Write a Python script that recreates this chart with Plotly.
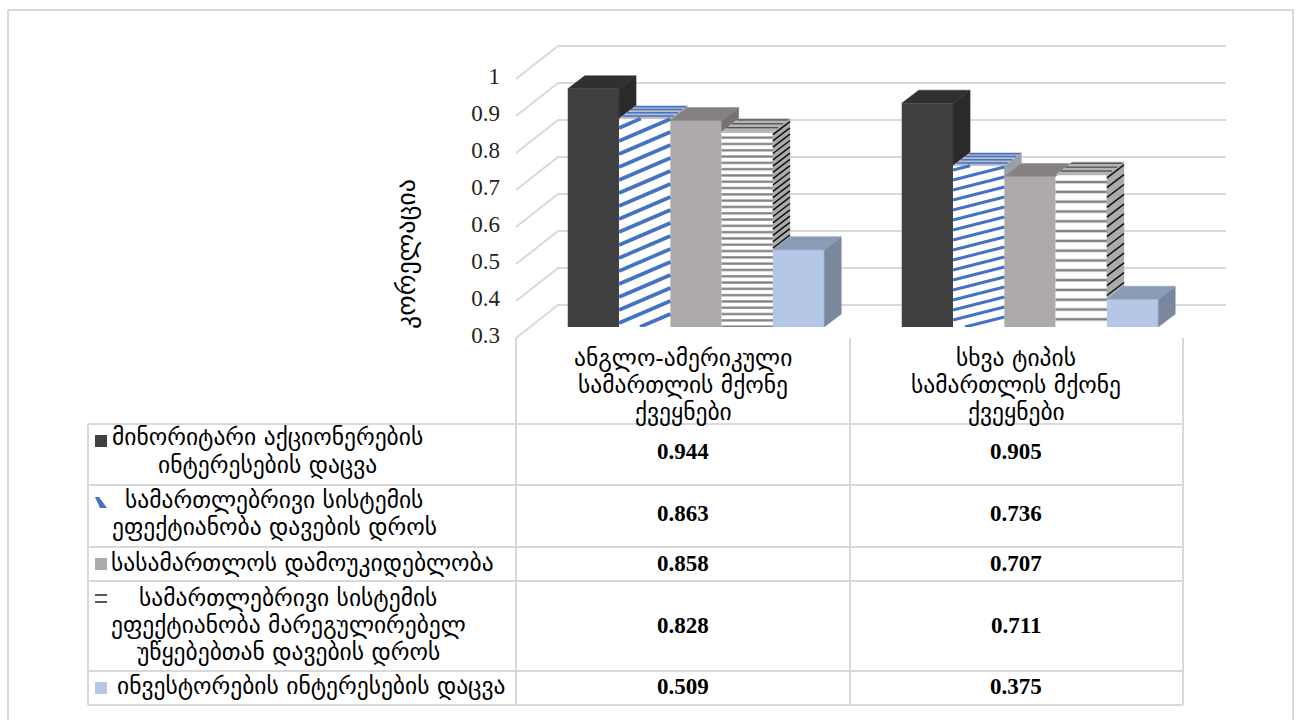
import plotly.graph_objects as go

# ---------- data ----------
group_labels = ["ანგლო-ამერიკული<br>სამართლის მქონე<br>ქვეყნები",
                "სხვა ტიპის<br>სამართლის მქონე<br>ქვეყნები"]
series_names = ["მინორიტარი აქციონერების<br>ინტერესების დაცვა",
                "სამართლებრივი სისტემის<br>ეფექტიანობა დავების დროს",
                "სასამართლოს დამოუკიდებლობა",
                "სამართლებრივი სისტემის<br>ეფექტიანობა მარეგულირებელ<br>უწყებებთან დავების დროს",
                "ინვესტორების ინტერესების დაცვა"]
anglo_values = [0.944, 0.863, 0.858, 0.828, 0.509]
other_values = [0.905, 0.736, 0.707, 0.711, 0.375]
y_ticks = [0.3, 0.4, 0.5, 0.6, 0.7, 0.8, 0.9, 1.0]
y_tick_text = ["0.3", "0.4", "0.5", "0.6", "0.7", "0.8", "0.9", "1"]
y_title = "კორელაცია"

# ---------- style ----------
W, H = 1301, 720
GRID = "#d9d9d9"
GEO = "DejaVu Sans"
SERIF = "Liberation Serif"
front = ["#404040", "#ffffff", "#aeaaaa", "#ffffff", "#b4c7e7"]
top_c = ["#303030", "#b8bcc4", "#858181", "#b4b4b4", "#8a9bb6"]
side_c = ["#2a2a2a", "#9aa0ac", "#757271", "#ababab", "#7a889e"]
BLUE = "#4472c4"
hatch_size = [6.3, 9.8]
hatch_solid = [0.36, 0.26]
side_step_px = [6.3, 9.8]
stripe_rise_px = [22, 13]
stripe_step_px = [13, 10]
stripe_width = [3.6, 3]

PL, PR, PT = 516, 1230, 40
PX_X = 334.0
PX_Y = 370.0
BASE_PX = 327
x0_data = (PL - 696.0) / PX_X
x1_data = (PR - 696.0) / PX_X
BAR_W = 51.3 / PX_X
DX = 17 / PX_X
DY = 13 / PX_Y


def px(v):
    return v / W


def py(v):
    return 1 - v / H


def val_px(v):
    return BASE_PX - (v - 0.3) * PX_Y


def poly(xs, ys, color):
    return go.Scatter(x=xs, y=ys, mode="lines", fill="toself", fillcolor=color,
                      line=dict(color=color, width=0.5), hoverinfo="skip", showlegend=False)


def seg(xs, ys, color, width):
    return go.Scatter(x=xs, y=ys, mode="lines", line=dict(color=color, width=width),
                      hoverinfo="skip", showlegend=False, connectgaps=False)


traces = []
columns = [anglo_values, other_values]
for s in range(5):
    vals = [anglo_values[s], other_values[s]]
    marker = dict(color=front[s], line=dict(width=0))
    if s == 3:
        marker["pattern"] = dict(shape="-", fgcolor="#000000", bgcolor="#ffffff",
                                 size=hatch_size, solidity=hatch_solid)
    traces.append(go.Bar(x=[0, 1], y=vals, name=series_names[s].replace("<br>", " "),
                         marker=marker, width=BAR_W, offset=(s - 2.5) * BAR_W, showlegend=False,
                         hovertemplate="%{y}<extra></extra>"))

for g, col in enumerate(columns):
    for s in range(5):
        v = col[s]
        xl = g + (s - 2.5) * BAR_W
        xr = xl + BAR_W
        low = col[s + 1] if s < 4 else 0.3
        if low < v:
            traces.append(poly([xr, xr + DX, xr + DX, xr, xr], [v, v + DY, low + DY, low, v], side_c[s]))
            if s == 3:
                xs, ys = [], []
                k = v - 0.008
                while k > low:
                    xs += [xr, xr + DX, None]
                    ys += [k, k + DY, None]
                    k -= side_step_px[g] / PX_Y
                traces.append(seg(xs, ys, "#111111", 1.5))
        traces.append(poly([xl, xl + DX, xr + DX, xr, xl], [v, v + DY, v + DY, v, v], top_c[s]))
        if s == 1:
            xs, ys = [], []
            for f in (0.2, 0.45, 0.7, 0.92):
                xs += [xl + DX * f, xr + DX * f, None]
                ys += [v + DY * f, v + DY * f, None]
            traces.append(seg(xs, ys, BLUE, 1.5))
            rise = stripe_rise_px[g] / PX_Y
            step = stripe_step_px[g] / PX_Y
            xs, ys = [], []
            k = 0.3 - rise
            while k < v:
                y_a, y_b = k, k + rise
                xa, xb = xl, xr
                if y_a < 0.3:
                    xa = xl + (0.3 - y_a) / rise * BAR_W
                    y_a = 0.3
                if y_b > v:
                    xb = xl + (v - k) / rise * BAR_W
                    y_b = v
                xs += [xa, xb, None]
                ys += [y_a, y_b, None]
                k += step
            traces.append(seg(xs, ys, BLUE, stripe_width[g]))
        if s == 3:
            xs, ys = [], []
            for f in (0.3, 0.6, 0.9):
                xs += [xl + DX * f, xr + DX * f, None]
                ys += [v + DY * f, v + DY * f, None]
            traces.append(seg(xs, ys, "#333333", 1))

traces.append(go.Scatter(x=[0], y=[0.5], yaxis="y2", mode="markers", marker=dict(opacity=0),
                         hoverinfo="skip", showlegend=False))

fig = go.Figure(traces)

shapes = []


def hline(x0, x1, y, c=GRID, w=2):
    shapes.append(dict(type="line", xref="paper", yref="paper", x0=px(x0), x1=px(x1), y0=py(y), y1=py(y),
                       line=dict(color=c, width=w), layer="below"))


def vline(x, y0, y1, c=GRID, w=2):
    shapes.append(dict(type="line", xref="paper", yref="paper", x0=px(x), x1=px(x), y0=py(y0), y1=py(y1),
                       line=dict(color=c, width=w), layer="below"))


for t in y_ticks:
    back = val_px(t) - 22
    fr = val_px(t) + 11
    shapes.append(dict(type="path", xref="paper", yref="paper", layer="below",
                       path=f"M {px(516)} {py(fr)} L {px(558)} {py(back)} L {px(1226)} {py(back)}",
                       line=dict(color=GRID, width=2)))

row_lines = [424, 485, 547, 581, 671, 705]
for y in row_lines:
    hline(88, 1183, y)
vline(88, 424, 705)
vline(516, 338, 705)
vline(850, 338, 705)
vline(1183, 338, 705)
hline(8, 1294, 10)
vline(8, 10, 720)
vline(1293, 10, 720)

key_y = [441, 502, 564, 598.5, 688]
for s, ky in enumerate(key_y):
    if s == 1:
        shapes.append(dict(type="path", xref="paper", yref="paper",
                           path=f"M {px(95)} {py(497)} L {px(99)} {py(497)} L {px(107)} {py(508)} L {px(100)} {py(508)} Z",
                           fillcolor=BLUE, line=dict(width=0)))
    elif s == 3:
        hline(95, 107, ky - 3.5, "#222222", 1.5)
        hline(95, 107, ky + 3.5, "#222222", 1.5)
    else:
        shapes.append(dict(type="rect", xref="paper", yref="paper", x0=px(95), x1=px(107),
                           y0=py(ky - 6), y1=py(ky + 6), fillcolor=front[s], line=dict(width=0)))

annots = []


def label(x, y, text, size, font=GEO, angle=0, color="#000000"):
    annots.append(dict(x=px(x), y=py(y), xref="paper", yref="paper", text=text, showarrow=False,
                       font=dict(family=font, size=size, color=color), align="center",
                       xanchor="center", yanchor="middle", textangle=angle))


def lines(x, y_mid, text, size, gap=27):
    parts = text.split("<br>")
    for i, part in enumerate(parts):
        label(x, y_mid + (i - (len(parts) - 1) / 2) * gap, part, size)


row_mid = [451, 513, 563, 625, 686]
row_x = [267, 274, 302, 288, 311]
for s in range(5):
    lines(row_x[s], row_mid[s], series_names[s], 23.5)
    label(683, row_mid[s], f"<b>{anglo_values[s]:.3f}</b>", 23, SERIF)
    label(1016, row_mid[s], f"<b>{other_values[s]:.3f}</b>", 23, SERIF)
lines(683, 385, group_labels[0], 23.5)
lines(1016, 385, group_labels[1], 23.5)
label(406, 254, y_title, 26, angle=-90)

fig.update_layout(
    width=W, height=H, autosize=False, margin=dict(l=0, r=0, t=0, b=0),
    paper_bgcolor="#ffffff", plot_bgcolor="rgba(0,0,0,0)", showlegend=False,
    barmode="overlay",
    xaxis=dict(domain=[px(PL), px(PR)], range=[x0_data, x1_data], visible=False, fixedrange=True),
    yaxis=dict(domain=[py(BASE_PX), py(PT)], range=[0.3, 0.3 + (BASE_PX - PT) / PX_Y], visible=False, fixedrange=True),
    yaxis2=dict(side="left", anchor="free", position=px(500),
                domain=[py(355), py(PT)],
                range=[0.3 - (355 - 335) / PX_Y, 0.3 + (335 - PT) / PX_Y],
                tickmode="array", tickvals=y_ticks, ticktext=y_tick_text,
                tickfont=dict(family=SERIF, size=23, color="#222222"),
                showgrid=False, zeroline=False, showline=False, ticks="", fixedrange=True),
    shapes=shapes, annotations=annots,
)
fig.write_html("out.html", config=dict(displayModeBar=False),
               post_script="document.body.style.margin='0';document.body.style.overflow='hidden';")
